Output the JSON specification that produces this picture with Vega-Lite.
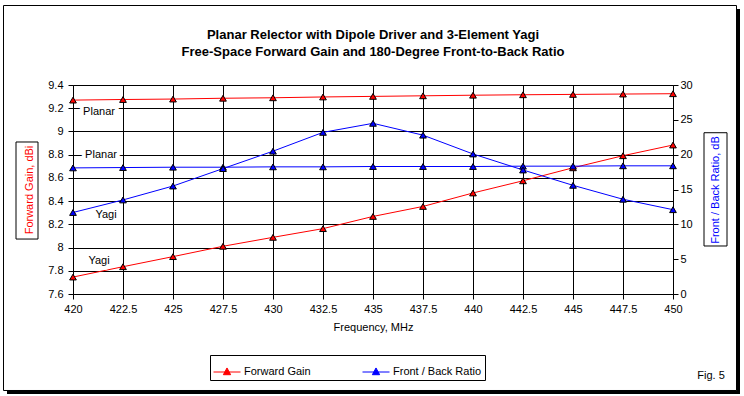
{
  "$schema": "https://vega.github.io/schema/vega-lite/v6.json",
  "width": 600,
  "height": 209,
  "autosize": {"type": "none"},
  "padding": {"left": 73, "top": 85, "right": 71, "bottom": 102},
  "background": "white",
  "config": {
    "font": "Liberation Sans",
    "view": {"stroke": null},
    "axis": {
      "labelFontSize": 11, "labelColor": "black", "titleFontSize": 11, "titleFontWeight": "normal",
      "titleColor": "black", "domainColor": "black", "tickColor": "black", "gridColor": "black",
      "gridOpacity": 1, "tickSize": 5, "domainWidth": 1, "gridWidth": 1, "tickWidth": 1,
      "labelOverlap": false
    }
  },
  "title": {
    "text": ["Planar Relector with Dipole Driver and 3-Element Yagi", "Free-Space Forward Gain and 180-Degree Front-to-Back Ratio"],
    "fontSize": 13, "fontWeight": "bold", "anchor": "middle", "frame": "group", "offset": -54, "lineHeight": 17, "color": "black"
  },
  "datasets": {
    "readings": [
      {"freq": 420, "series": "Forward Gain", "design": "Planar", "value": 9.27},
      {"freq": 422.5, "series": "Forward Gain", "design": "Planar", "value": 9.275},
      {"freq": 425, "series": "Forward Gain", "design": "Planar", "value": 9.279},
      {"freq": 427.5, "series": "Forward Gain", "design": "Planar", "value": 9.286},
      {"freq": 430, "series": "Forward Gain", "design": "Planar", "value": 9.29},
      {"freq": 432.5, "series": "Forward Gain", "design": "Planar", "value": 9.297},
      {"freq": 435, "series": "Forward Gain", "design": "Planar", "value": 9.302},
      {"freq": 437.5, "series": "Forward Gain", "design": "Planar", "value": 9.307},
      {"freq": 440, "series": "Forward Gain", "design": "Planar", "value": 9.312},
      {"freq": 442.5, "series": "Forward Gain", "design": "Planar", "value": 9.316},
      {"freq": 445, "series": "Forward Gain", "design": "Planar", "value": 9.319},
      {"freq": 447.5, "series": "Forward Gain", "design": "Planar", "value": 9.322},
      {"freq": 450, "series": "Forward Gain", "design": "Planar", "value": 9.325},
      {"freq": 420, "series": "Forward Gain", "design": "Yagi", "value": 7.746},
      {"freq": 422.5, "series": "Forward Gain", "design": "Yagi", "value": 7.835},
      {"freq": 425, "series": "Forward Gain", "design": "Yagi", "value": 7.922},
      {"freq": 427.5, "series": "Forward Gain", "design": "Yagi", "value": 8.011},
      {"freq": 430, "series": "Forward Gain", "design": "Yagi", "value": 8.088},
      {"freq": 432.5, "series": "Forward Gain", "design": "Yagi", "value": 8.163},
      {"freq": 435, "series": "Forward Gain", "design": "Yagi", "value": 8.268},
      {"freq": 437.5, "series": "Forward Gain", "design": "Yagi", "value": 8.354},
      {"freq": 440, "series": "Forward Gain", "design": "Yagi", "value": 8.47},
      {"freq": 442.5, "series": "Forward Gain", "design": "Yagi", "value": 8.575},
      {"freq": 445, "series": "Forward Gain", "design": "Yagi", "value": 8.687},
      {"freq": 447.5, "series": "Forward Gain", "design": "Yagi", "value": 8.791},
      {"freq": 450, "series": "Forward Gain", "design": "Yagi", "value": 8.883},
      {"freq": 420, "series": "Front / Back Ratio", "design": "Planar", "value": 18.1},
      {"freq": 422.5, "series": "Front / Back Ratio", "design": "Planar", "value": 18.15},
      {"freq": 425, "series": "Front / Back Ratio", "design": "Planar", "value": 18.2},
      {"freq": 427.5, "series": "Front / Back Ratio", "design": "Planar", "value": 18.2},
      {"freq": 430, "series": "Front / Back Ratio", "design": "Planar", "value": 18.25},
      {"freq": 432.5, "series": "Front / Back Ratio", "design": "Planar", "value": 18.25},
      {"freq": 435, "series": "Front / Back Ratio", "design": "Planar", "value": 18.3},
      {"freq": 437.5, "series": "Front / Back Ratio", "design": "Planar", "value": 18.3},
      {"freq": 440, "series": "Front / Back Ratio", "design": "Planar", "value": 18.3},
      {"freq": 442.5, "series": "Front / Back Ratio", "design": "Planar", "value": 18.35},
      {"freq": 445, "series": "Front / Back Ratio", "design": "Planar", "value": 18.35},
      {"freq": 447.5, "series": "Front / Back Ratio", "design": "Planar", "value": 18.4},
      {"freq": 450, "series": "Front / Back Ratio", "design": "Planar", "value": 18.4},
      {"freq": 420, "series": "Front / Back Ratio", "design": "Yagi", "value": 11.7},
      {"freq": 422.5, "series": "Front / Back Ratio", "design": "Yagi", "value": 13.5},
      {"freq": 425, "series": "Front / Back Ratio", "design": "Yagi", "value": 15.5},
      {"freq": 427.5, "series": "Front / Back Ratio", "design": "Yagi", "value": 18.0},
      {"freq": 430, "series": "Front / Back Ratio", "design": "Yagi", "value": 20.5},
      {"freq": 432.5, "series": "Front / Back Ratio", "design": "Yagi", "value": 23.2},
      {"freq": 435, "series": "Front / Back Ratio", "design": "Yagi", "value": 24.5},
      {"freq": 437.5, "series": "Front / Back Ratio", "design": "Yagi", "value": 22.8},
      {"freq": 440, "series": "Front / Back Ratio", "design": "Yagi", "value": 20.1},
      {"freq": 442.5, "series": "Front / Back Ratio", "design": "Yagi", "value": 17.8},
      {"freq": 445, "series": "Front / Back Ratio", "design": "Yagi", "value": 15.6},
      {"freq": 447.5, "series": "Front / Back Ratio", "design": "Yagi", "value": 13.6},
      {"freq": 450, "series": "Front / Back Ratio", "design": "Yagi", "value": 12.1}
    ],
    "labels": [
      {"freq": 421.3, "value": 9.164, "label": "Planar"},
      {"freq": 421.4, "value": 8.8, "label": "Planar"},
      {"freq": 421.65, "value": 8.277, "label": "Yagi"},
      {"freq": 421.3, "value": 7.887, "label": "Yagi"}
    ],
    "notes": [
      {"freq": 451.9, "value": -11.73, "label": "Fig. 5"}
    ]
  },
  "layer": [
    {
      "encoding": {
        "x": {
          "field": "freq", "type": "quantitative",
          "scale": {"domain": [420, 450], "nice": false, "zero": false},
          "axis": {
            "title": "Frequency, MHz", "values": [420, 422.5, 425, 427.5, 430, 432.5, 435, 437.5, 440, 442.5, 445, 447.5, 450],
            "format": ".4~g", "grid": true, "labelFlush": false, "labelPadding": 4, "titlePadding": 7
          }
        },
        "y": {
          "field": "value", "type": "quantitative",
          "scale": {"domain": [7.6, 9.4], "nice": false, "zero": false},
          "axis": {
            "orient": "left", "title": "Forward Gain, dBi", "titleColor": "#ff0000",
            "values": [7.6, 7.8, 8, 8.2, 8.4, 8.6, 8.8, 9, 9.2, 9.4], "format": ".3~g",
            "grid": true, "labelPadding": 5, "titlePadding": 13
          }
        }
      },
      "layer": [
        {
          "data": {"name": "readings"},
          "transform": [{"filter": "datum.series === 'Forward Gain'"}],
          "mark": {"type": "line", "strokeWidth": 1},
          "encoding": {
            "color": {
              "field": "series", "type": "nominal",
              "scale": {"domain": ["Forward Gain", "Front / Back Ratio"], "range": ["#ff0000", "#0000ff"]},
              "legend": {
                "orient": "none", "legendX": 137, "legendY": 270, "direction": "horizontal", "columns": 2,
                "title": null, "strokeColor": "black", "fillColor": "white", "padding": 3, "cornerRadius": 0,
                "symbolType": "M-1,0H1M-0.27,0.2L0,-0.3L0.27,0.2Z", "symbolSize": 729, "symbolStrokeWidth": 1,
                "labelFontSize": 11, "labelColor": "black", "labelOffset": 3, "columnPadding": 49, "labelLimit": 300,
                "encode": {"symbols": {"update": {"fill": {"scale": "color", "field": "value"}, "stroke": {"scale": "color", "field": "value"}, "fillOpacity": {"value": 1}, "strokeOpacity": {"value": 1}}}}
              }
            },
            "detail": {"field": "design"}
          }
        },
        {
          "data": {"name": "readings"},
          "transform": [{"filter": "datum.series === 'Forward Gain'"}],
          "mark": {"type": "point", "shape": "triangle-up", "filled": true, "size": 45, "stroke": "black", "strokeWidth": 1, "opacity": 1},
          "encoding": {
            "color": {"field": "series", "type": "nominal"}
          }
        },
        {
          "data": {"name": "labels"},
          "mark": {"type": "text", "fontSize": 11, "stroke": "white", "strokeWidth": 8, "fill": "white", "strokeJoin": "round", "baseline": "middle"},
          "encoding": {"text": {"field": "label"}}
        },
        {
          "data": {"name": "labels"},
          "mark": {"type": "text", "fontSize": 11, "fill": "black", "baseline": "middle"},
          "encoding": {"text": {"field": "label"}}
        }
      ]
    },
    {
      "encoding": {
        "x": {"field": "freq", "type": "quantitative"},
        "y": {
          "field": "value", "type": "quantitative",
          "scale": {"domain": [0, 30], "nice": false, "zero": false},
          "axis": {
            "orient": "right", "title": "Front / Back Ratio, dB", "titleColor": "#0000ff",
            "titleAngle": 270, "titleBaseline": "top",
            "values": [0, 5, 10, 15, 20, 25, 30], "grid": false, "labelPadding": 2, "titlePadding": 17
          }
        }
      },
      "layer": [
        {
          "data": {"name": "readings"},
          "transform": [{"filter": "datum.series === 'Front / Back Ratio'"}],
          "mark": {"type": "line", "strokeWidth": 1},
          "encoding": {
            "color": {"field": "series", "type": "nominal"},
            "detail": {"field": "design"}
          }
        },
        {
          "data": {"name": "readings"},
          "transform": [{"filter": "datum.series === 'Front / Back Ratio'"}],
          "mark": {"type": "point", "shape": "triangle-up", "filled": true, "size": 45, "stroke": "black", "strokeWidth": 1, "opacity": 1},
          "encoding": {
            "color": {"field": "series", "type": "nominal"}
          }
        },
        {
          "data": {"name": "notes"},
          "mark": {"type": "text", "fontSize": 11, "fill": "black", "baseline": "middle"},
          "encoding": {"text": {"field": "label"}}
        }
      ]
    },
    {
      "data": {"values": [{"k": 1}]},
      "layer": [
        {
          "mark": {"type": "rect", "filled": false, "stroke": "black", "strokeWidth": 1},
          "encoding": {
            "x": {"datum": 417.15, "type": "quantitative"}, "x2": {"datum": 418.25},
            "y": {"datum": 21.82, "type": "quantitative", "scale": {"domain": [0, 30], "nice": false, "zero": false}, "axis": null}, "y2": {"datum": 7.89}
          }
        },
        {
          "mark": {"type": "rect", "filled": false, "stroke": "black", "strokeWidth": 1},
          "encoding": {
            "x": {"datum": 451.55, "type": "quantitative"}, "x2": {"datum": 452.7},
            "y": {"datum": 23.15, "type": "quantitative"}, "y2": {"datum": 6.89}
          }
        },
        {
          "mark": {"type": "rect", "filled": false, "stroke": "black", "strokeWidth": 1},
          "encoding": {
            "x": {"datum": 416.525, "type": "quantitative"}, "x2": {"datum": 453.175},
            "y": {"datum": 41.41, "type": "quantitative"}, "y2": {"datum": -13.85}
          }
        },
        {
          "mark": {"type": "rect", "fill": "black"},
          "encoding": {
            "x": {"datum": 453.175, "type": "quantitative"}, "x2": {"datum": 453.35},
            "y": {"datum": 40.91, "type": "quantitative"}, "y2": {"datum": -14.35}
          }
        },
        {
          "mark": {"type": "rect", "fill": "black"},
          "encoding": {
            "x": {"datum": 416.7, "type": "quantitative"}, "x2": {"datum": 453.35},
            "y": {"datum": -13.85, "type": "quantitative"}, "y2": {"datum": -14.35}
          }
        }
      ]
    }
  ],
  "resolve": {"scale": {"y": "independent"}}
}
